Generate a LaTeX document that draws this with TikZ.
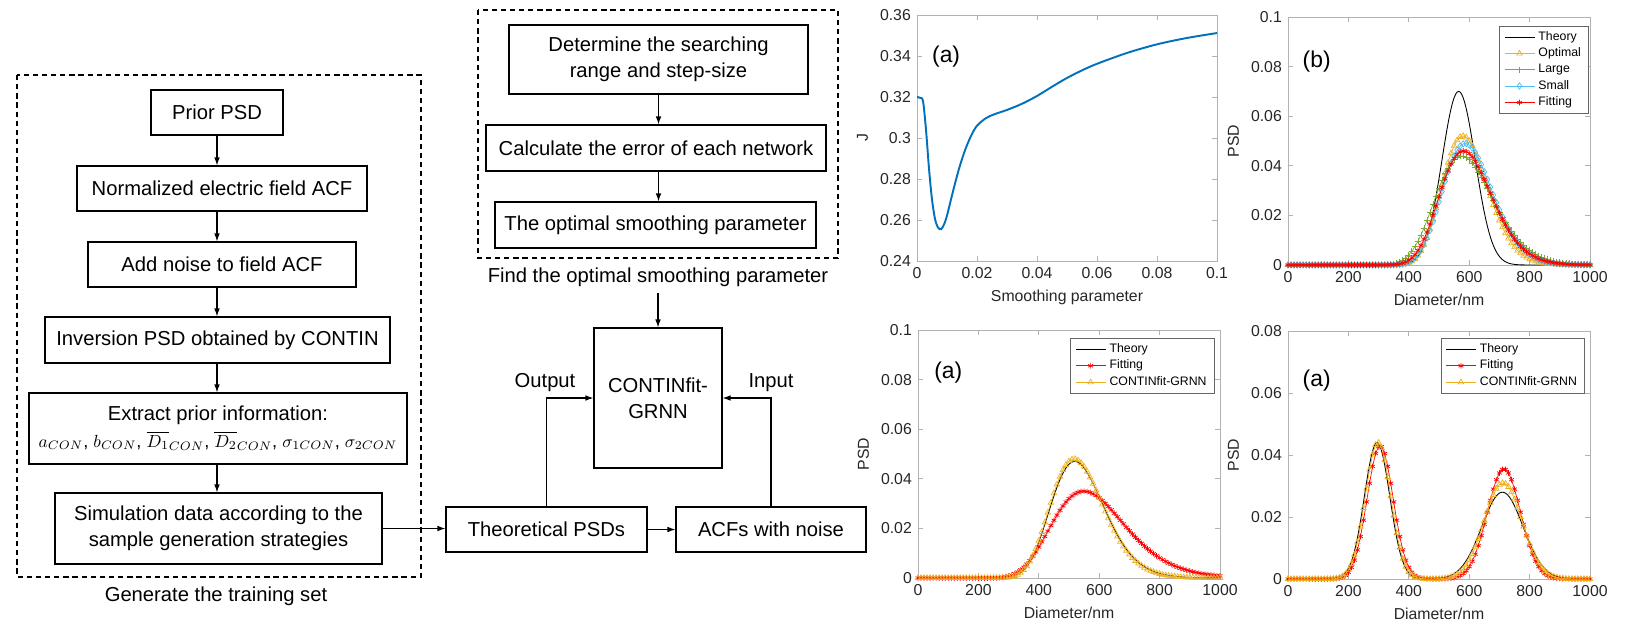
\documentclass[tikz,border=0pt]{standalone}
\usepackage{amsmath}
\usepackage{fontspec}
\setmainfont{Liberation Sans}
\usepackage{tikz}
\usepackage{pgfplots}
\pgfplotsset{compat=1.18}
\usetikzlibrary{arrows.meta,calc,positioning}

\definecolor{mlblue}{RGB}{0,114,189}
\definecolor{mlorange}{RGB}{237,177,32}
\definecolor{mlgreen}{RGB}{119,172,48}
\definecolor{mlcyan}{RGB}{77,190,238}

\pgfplotsset{
  mlaxis/.style={scale only axis, axis background/.style={fill=white},
    axis line style={gray!60}, tick style={gray!60, line width=0.4pt},
    tick align=inside, major tick length=0.1cm, scaled ticks=false,
    clip mode=individual,
    ticklabel style={font=\fontsize{9}{10}\selectfont, text=black!85},
    label style={font=\fontsize{9}{10}\selectfont, text=black!85}},
  psdaxis/.style={mlaxis, width=6.04cm, height=4.96cm,
    xmin=0, xmax=1000, xtick={0,200,400,600,800,1000},
    xticklabels={0,200,400,600,800,1000},
    xlabel={Diameter/nm}, ylabel={PSD},
    legend cell align=left},
  mlegend/.style={anchor=north east, draw=black!60, font=\fontsize{7}{8}\selectfont,
    inner xsep=2.5pt, inner ysep=1pt, row sep=-1.2pt},
  fitmark/.style={red, line width=0.4pt, mark=asterisk, mark size=1.6pt},
  grnnmark/.style={mlorange, line width=0.4pt, mark=triangle, mark size=1.8pt}
}

\begin{document}
\begin{tikzpicture}[>={Latex[length=4.5pt,width=3.2pt]}, font=\fontsize{11.5}{15}\selectfont,
    box/.style={draw, line width=0.7pt, align=center, inner sep=2pt},
    group/.style={draw, line width=0.6pt, dash pattern=on 3pt off 2.2pt},
    flow/.style={->, line width=0.6pt},
    tag/.style={font=\fontsize{13}{15}\selectfont}]
  \useasboundingbox (0,0) rectangle (32.62,-12.58);

  % Training set
  \draw[group] (0.34,-1.5) rectangle (8.42,-11.54);
  \node[box, minimum width=2.64cm, minimum height=0.9cm] (prior) at (4.34,-2.25) {Prior PSD};
  \node[box, minimum width=5.8cm, minimum height=0.9cm] (norm) at (4.44,-3.77) {Normalized electric field ACF};
  \node[box, minimum width=5.36cm, minimum height=0.9cm] (noise) at (4.44,-5.29) {Add noise to field ACF};
  \node[box, minimum width=6.9cm, minimum height=0.92cm] (inv) at (4.35,-6.8) {Inversion PSD obtained by CONTIN};
  \node[box, minimum width=7.56cm, minimum height=1.42cm] (extract) at (4.36,-8.57)
    {Extract prior information:\\ {\fontsize{10.4}{13}\selectfont $a_{CON}$, $b_{CON}$, $\overline{D_1}_{CON}$, $\overline{D_2}_{CON}$, $\sigma_{1CON}$, $\sigma_{2CON}$}};
  \node[box, minimum width=6.54cm, minimum height=1.42cm] (sim) at (4.37,-10.57)
    {Simulation data according to the\\sample generation strategies};
  \node (train) at (4.32,-11.92) {Generate the training set};
  \foreach \a/\b in {prior/norm, norm/noise, noise/inv, inv/extract, extract/sim}
    \draw[flow] (prior |- \a.south) -- (prior |- \b.north);

  % Smoothing parameter search
  \draw[group] (9.56,-0.2) rectangle (16.76,-5.16);
  \node[box, minimum width=5.98cm, minimum height=1.38cm] (determine) at (13.17,-1.19)
    {Determine the searching\\range and step-size};
  \node[box, minimum width=6.8cm, minimum height=0.92cm] (calc) at (13.12,-2.96) {Calculate the error of each network};
  \node[box, minimum width=6.42cm, minimum height=0.92cm] (optimal) at (13.11,-4.5) {The optimal smoothing parameter};
  \node (find) at (13.16,-5.54) {Find the optimal smoothing parameter};
  \foreach \a/\b in {determine/calc, calc/optimal}
    \draw[flow] (determine |- \a.south) -- (determine |- \b.north);

  % Network
  \node[box, minimum width=2.56cm, minimum height=2.8cm] (contin) at (13.16,-7.96) {CONTINfit-\\GRNN};
  \node[box, minimum width=4.02cm, minimum height=0.9cm] (theo) at (10.93,-10.59) {Theoretical PSDs};
  \node[box, minimum width=3.8cm, minimum height=0.9cm] (acf) at (15.42,-10.59) {ACFs with noise};
  \node (out) at (10.9,-7.66) {Output};
  \node (in) at (15.42,-7.66) {Input};
  \draw[flow] (find.south) -- (find.south |- contin.north);
  \draw[flow] (sim.east) -- (sim.east -| theo.west);
  \draw[flow] (theo.east) -- (acf.west);
  \draw[flow] (theo.north) |- (contin.west);
  \draw[flow] (acf.north) |- (contin.east);

  % J versus smoothing parameter
  \begin{axis}[mlaxis, at={(18.34cm,-5.22cm)}, anchor=south west, width=6cm, height=4.92cm,
      xmin=0, xmax=0.1, ymin=0.24, ymax=0.36,
      xtick={0,0.02,0.04,0.06,0.08,0.1}, xticklabels={0,0.02,0.04,0.06,0.08,0.1},
      ytick={0.24,0.26,0.28,0.3,0.32,0.34,0.36}, yticklabels={0.24,0.26,0.28,0.3,0.32,0.34,0.36},
      xlabel={Smoothing parameter}, ylabel={J}]
    \addplot[mlblue, line width=1.1pt, smooth] coordinates {
      (0,0.320) (0.001,0.3196) (0.002,0.318) (0.003,0.304) (0.004,0.285) (0.005,0.270)
      (0.006,0.2605) (0.007,0.2563) (0.008,0.2555) (0.009,0.2578) (0.010,0.2622)
      (0.012,0.274) (0.014,0.285) (0.016,0.294) (0.018,0.301) (0.020,0.306)
      (0.023,0.3097) (0.026,0.3117) (0.030,0.3137) (0.035,0.3167) (0.040,0.3205)
      (0.045,0.325) (0.050,0.3293) (0.055,0.333) (0.060,0.3362) (0.070,0.3415)
      (0.080,0.3457) (0.090,0.3488) (0.100,0.3512)};
    \node[tag] at (rel axis cs:0.097,0.829) {(a)};
  \end{axis}

  % Smoothing parameter comparison
  \begin{axis}[psdaxis, at={(25.76cm,-5.3cm)}, anchor=south west,
      ymin=0, ymax=0.1, ytick={0,0.02,0.04,0.06,0.08,0.1}, yticklabels={0,0.02,0.04,0.06,0.08,0.1},
      legend style={mlegend, at={(0.997,0.965)}}]
    \addplot[black, line width=0.5pt, domain=0:1000, samples=201] {0.07*exp(-0.5*((x-565)/55)^2)};
    \addplot[mlorange, line width=0.4pt, mark=triangle, mark size=1.8pt, domain=0:1000, samples=101]
      {0.052*exp(-0.5*(ln((x+1)/580)/0.13)^2)};
    \addplot[mlgreen, line width=0.4pt, mark=+, mark size=1.8pt, domain=0:1000, samples=101]
      {0.044*exp(-0.5*(ln((x+1)/575)/0.165)^2)};
    \addplot[mlcyan, line width=0.4pt, mark=diamond, mark size=1.8pt, domain=0:1000, samples=101]
      {0.049*exp(-0.5*(ln((x+1)/588)/0.14)^2)};
    \addplot[fitmark, domain=0:1000, samples=101]
      {0.046*exp(-0.5*(ln((x+1)/582)/0.148)^2)};
    \legend{Theory, Optimal, Large, Small, Fitting}
    \node[tag] at (rel axis cs:0.095,0.82) {(b)};
  \end{axis}

  % Unimodal result
  \begin{axis}[psdaxis, at={(18.36cm,-11.56cm)}, anchor=south west,
      ymin=0, ymax=0.1, ytick={0,0.02,0.04,0.06,0.08,0.1}, yticklabels={0,0.02,0.04,0.06,0.08,0.1},
      legend style={mlegend, at={(0.983,0.968)}}]
    \addplot[black, line width=0.5pt, domain=0:1000, samples=201] {0.047*exp(-0.5*(ln((x+1)/520)/0.17)^2)};
    \addplot[fitmark, domain=0:1000, samples=101] {0.035*exp(-0.5*(ln((x+1)/550)/0.22)^2)};
    \addplot[grnnmark, domain=0:1000, samples=101] {0.048*exp(-0.5*(ln((x+1)/518)/0.168)^2)};
    \legend{Theory, Fitting, CONTINfit-GRNN}
    \node[tag] at (rel axis cs:0.10,0.827) {(a)};
  \end{axis}

  % Bimodal result
  \begin{axis}[psdaxis, at={(25.76cm,-11.58cm)}, anchor=south west,
      ymin=0, ymax=0.08, ytick={0,0.02,0.04,0.06,0.08}, yticklabels={0,0.02,0.04,0.06,0.08},
      legend style={mlegend, at={(0.984,0.972)}}]
    \addplot[black, line width=0.5pt, domain=0:1000, samples=201]
      {0.044*exp(-0.5*((x-295)/42)^2) + 0.028*exp(-0.5*((x-710)/68)^2)};
    \addplot[fitmark, domain=0:1000, samples=101]
      {0.043*exp(-0.5*((x-305)/43)^2) + 0.0355*exp(-0.5*((x-715)/55)^2)};
    \addplot[grnnmark, domain=0:1000, samples=101]
      {0.044*exp(-0.5*((x-298)/42)^2) + 0.031*exp(-0.5*((x-712)/62)^2)};
    \legend{Theory, Fitting, CONTINfit-GRNN}
    \node[tag] at (rel axis cs:0.095,0.80) {(a)};
  \end{axis}
\end{tikzpicture}
\end{document}
